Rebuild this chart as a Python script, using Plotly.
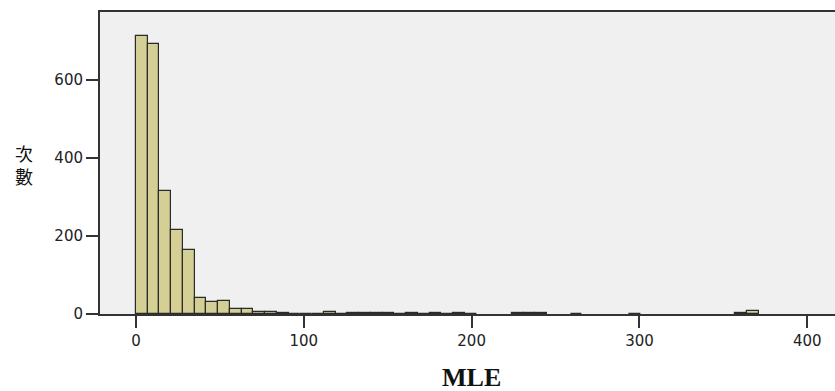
import plotly.graph_objects as go

bin_width = 7
bin_start = [0, 7, 14, 21, 28, 35, 42, 49, 56, 63, 70, 77, 84, 91, 98, 105, 112, 119, 126, 133,
             140, 147, 154, 161, 168, 175, 182, 189, 196, 203, 210, 217, 224, 231, 238, 245,
             252, 259, 266, 273, 280, 287, 294, 301, 308, 315, 322, 329, 336, 343, 350, 357,
             364, 371]
counts = [713, 691, 316, 215, 164, 40, 30, 33, 12, 12, 4, 4, 3, 1, 1, 1, 4, 1, 2, 2,
          2, 2, 1, 2, 1, 2, 1, 2, 1, 0, 0, 0, 2, 2, 2, 0,
          0, 1, 0, 0, 0, 0, 1, 0, 0, 0, 0, 0, 0, 0, 0, 2,
          7, 0]

x_ticks = [0, 100, 200, 300, 400]
y_ticks = [0, 200, 400, 600]
x_title = "<b>MLE</b>"
y_title = "次<br>數"

centers = [s + bin_width / 2 for s in bin_start]
line_widths = [1.2 if c > 0 else 0 for c in counts]

fig = go.Figure()
fig.add_trace(go.Bar(
    x=centers, y=counts, width=[bin_width] * len(counts),
    marker=dict(color="#d4cf95", line=dict(color="#2a2a2a", width=line_widths)),
    hoverinfo="skip",
))

tick_font = dict(family="DejaVu Sans", size=15, color="#222222")
fig.update_layout(
    width=835, height=391,
    margin=dict(l=100, r=0, t=12, b=77),
    paper_bgcolor="#ffffff",
    plot_bgcolor="#f0f0f0",
    showlegend=False,
    bargap=0,
    xaxis=dict(
        range=[-21.4, 416.5], tickvals=x_ticks, ticktext=[str(v) for v in x_ticks],
        showgrid=False, zeroline=False, showline=True, linecolor="#333333", linewidth=2,
        mirror=True, ticks="outside", ticklen=12, tickwidth=1.6, tickcolor="#333333",
        tickfont=tick_font,
    ),
    yaxis=dict(
        range=[0, 774], tickvals=y_ticks, ticktext=[str(v) for v in y_ticks],
        showgrid=False, zeroline=False, showline=True, linecolor="#333333", linewidth=2,
        ticks="outside", ticklen=12, tickwidth=1.6, tickcolor="#333333",
        tickfont=tick_font,
    ),
    annotations=[
        dict(text=x_title, xref="paper", yref="paper", x=(471 - 100) / 735, y=-(377 - 314) / 302,
             xanchor="center", yanchor="middle", showarrow=False,
             font=dict(family="Liberation Serif", size=26, color="#111111")),
        dict(text=y_title, xref="paper", yref="paper", x=-(100 - 24) / 735, y=(314 - 164) / 302,
             xanchor="center", yanchor="middle", showarrow=False,
             font=dict(family="Noto Sans CJK TC", size=18, color="#111111")),
    ],
)

fig.write_html("out.html")
